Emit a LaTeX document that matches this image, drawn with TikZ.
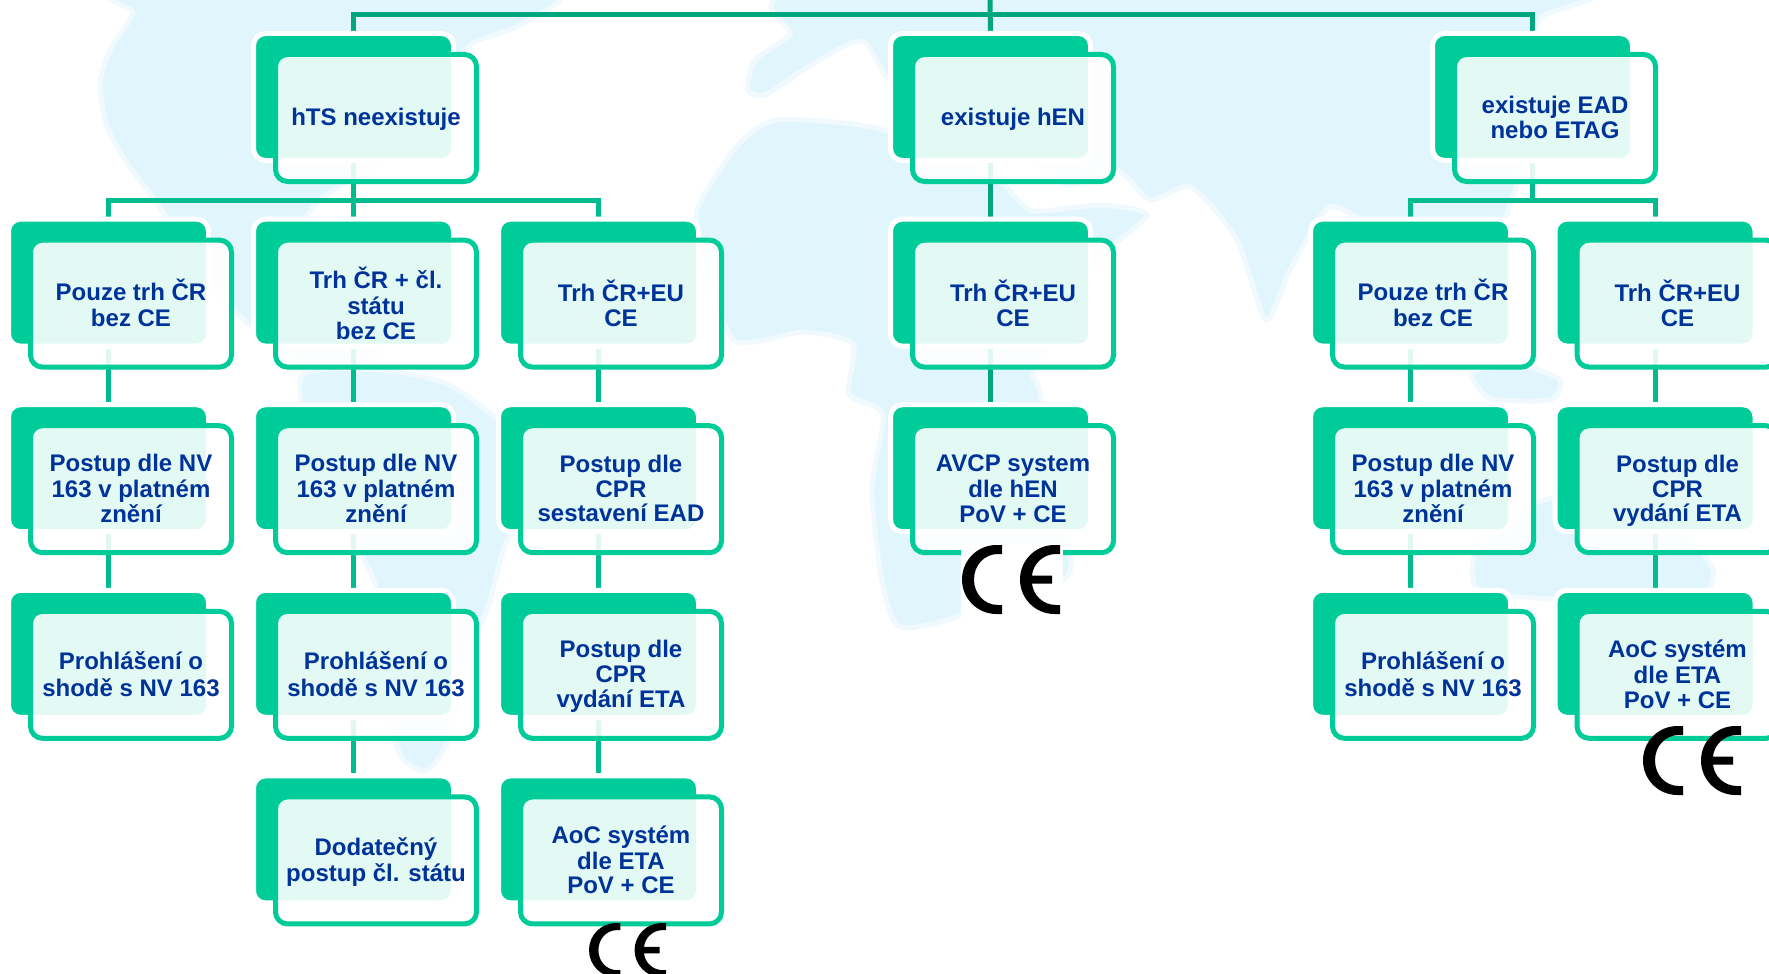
\documentclass[tikz,border=0pt]{standalone}
\usepackage{fontspec}
\setmainfont{Liberation Sans}
\definecolor{mapblue}{HTML}{E1F5FD}
\definecolor{boxgreen}{HTML}{00CC99}
\definecolor{linkgreen}{HTML}{00BC8E}
\definecolor{linkdark}{HTML}{00A67E}
\definecolor{txtblue}{HTML}{003399}
\tikzset{
  land/.style={fill=mapblue,draw=mapblue!50,line width=5pt,line join=round},
  backbox/.style={rectangle,rounded corners=12pt,draw=white,fill=boxgreen,line width=5pt,
    minimum width=200pt,minimum height=127pt,inner sep=0pt,outer sep=0pt,anchor=north west},
  frontbox/.style={rectangle,rounded corners=12pt,draw=boxgreen,fill=white,fill opacity=.89,draw opacity=1,
    line width=5pt,minimum width=201pt,minimum height=127pt,inner sep=0pt,outer sep=0pt,anchor=north west},
  boxtext/.style={align=center,text=txtblue,inner sep=0pt,
    font=\fontsize{24}{24.8}\selectfont\bfseries,anchor=center},
  link/.style={draw=linkgreen,line width=5pt,line join=miter},
  linkd/.style={draw=linkdark,line width=5pt,line join=miter}
}
\newcommand{\cbox}[4]{%
  \node[backbox] (b#1) at (#2-2.5,#3-2.5) {};
}
\newcommand{\cfront}[4]{%
  \node[frontbox] (f#1) at (#2+19.5,#3+18.5) {};
  \node[boxtext] (t#1) at (#2+120,#3+85) {\lineskiplimit=-100pt\relax\frenchspacing\strut #4\strut};
}
\newcommand{\celogo}[5]{%
  \begin{scope}[shift={(#1,#2)},x=#3pt,y=-#4pt]
    \fill[black] (40,0) -- (34.5,0) .. controls (15.4,0) and (0,15.4) .. (0,34.5) .. controls (0,53.6) and (15.4,69) .. (34.5,69) -- (40,69) -- (40,60) -- (36,60) .. controls (22,60) and (12,48.6) .. (12,34.5) .. controls (12,20.4) and (22,9) .. (36,9) -- (40,9) -- cycle;
    \fill[black] (98,0) -- (92.5,0) .. controls (73.4,0) and (58,15.4) .. (58,34.5) .. controls (58,53.6) and (73.4,69) .. (92.5,69) -- (98,69) -- (98,60) -- (94,60) .. controls (81,60) and (71,50) .. (70,38.5) -- (90,38.5) -- (90,30.5) -- (70,30.5) .. controls (71,19) and (81,9) .. (94,9) -- (98,9) -- cycle;
  \end{scope}
}
\begin{document}
\begin{tikzpicture}[x=1pt,y=-1pt]
\useasboundingbox (0,0) rectangle (1769,974);
\clip (0,0) rectangle (1769,974);
\fill[white] (0,0) rectangle (1769,974);
% map
\path[land] plot[smooth cycle,tension=.4] coordinates {(123,-10)(133,13)(110,50)(100,83)(107,127)(130,167)(160,207)(185,250)(215,290)(255,330)(300,365)(340,395)(372,360)(390,300)(330,270)(290,250)(320,200)(410,140)(445,90)(470,45)(520,25)(545,-10)};
\path[land] plot[smooth cycle,tension=.4] coordinates {(301,377)(380,370)(450,385)(510,430)(541,470)(505,545)(488,607)(459,674)(448,741)(425,771)(396,744)(376,587)(320,480)};
\path[land] plot[smooth cycle,tension=.4] coordinates {(698,207)(738,145)(776,120)(853,124)(900,135)(975,166)(1006,187)(1033,211)(1100,205)(1147,215)(1101,257)(1056,332)(1033,373)(1040,394)(1071,564)(1030,590)(899,626)(872,497)(883,415)(849,394)(853,344)(803,332)(734,340)(700,249)};
\path[land] plot[smooth cycle,tension=.4] coordinates {(815,-10)(790,35)(755,60)(748,90)(765,95)(800,72)(840,48)(865,42)(890,80)(945,100)(1000,125)(1040,165)(1070,185)(1117,170)(1150,200)(1191,187)(1237,240)(1266,320)(1290,270)(1329,207)(1370,230)(1400,300)(1440,330)(1470,300)(1518,180)(1525,60)(1541,17)(1564,-10)};
\path[land] plot[smooth cycle,tension=.4] coordinates {(1472,372)(1520,365)(1560,380)(1550,400)(1490,398)};
\path[land] plot[smooth cycle,tension=.4] coordinates {(1478,545)(1530,505)(1580,495)(1620,520)(1680,530)(1713,570)(1700,600)(1640,610)(1560,600)(1478,590)};
% anchor points of the connectors
\foreach \n/\x/\y in {hts/256/36,hen/893/36,ead/1435/36,
  a1/11/221.6,a2/256/221.6,a3/501/221.6,h1/893/221.6,e1/1313/221.6,e2/1557.5/221.6,
  b1/11/407.2,b2/256/407.2,b3/501/407.2,h2/893/407.2,f1/1313/407.2,f2/1557.5/407.2,
  c1/11/592.8,c2/256/592.8,c3/501/592.8,g1/1313/592.8,g2/1557.5/592.8,
  d2/256/778.4,d3/501/778.4}{
  \coordinate (t\n) at (\x+97.5,\y-5);
  \coordinate (s\n) at (\x+97.5,\y+127);
}
% connectors
\coordinate (topC) at (990,-5);
\coordinate (busT) at (990,14.5);
\coordinate (busA) at (353.5,200);
\coordinate (busE) at (1532.5,200);
\draw[linkd] (topC) -- (then);
\draw[linkd] (thts) |- (busT) -| (tead);
\draw[link] (shts) -- (ta2);
\draw[link] (ta1) |- (busA) -| (ta3);
\draw[link] (sead) -- (busE);
\draw[link] (te1) |- (busE) -| (te2);
\draw[linkd] (shen) -- (th1);
\draw[linkd] (sh1) -- (th2);
\foreach \p/\q in {a1/b1,a2/b2,a3/b3,b1/c1,b2/c2,b3/c3,c2/d2,c3/d3,e1/f1,e2/f2,f1/g1,f2/g2}{
  \draw[link] (s\p) -- (t\q);
}
% boxes
\cbox{hts}{256}{36}{} \cbox{hen}{893}{36}{} \cbox{ead}{1435}{36}{}
\cbox{a1}{11}{221.6}{} \cbox{a2}{256}{221.6}{} \cbox{a3}{501}{221.6}{} \cbox{h1}{893}{221.6}{} \cbox{e1}{1313}{221.6}{} \cbox{e2}{1557.5}{221.6}{}
\cbox{b1}{11}{407.2}{} \cbox{b2}{256}{407.2}{} \cbox{b3}{501}{407.2}{} \cbox{h2}{893}{407.2}{} \cbox{f1}{1313}{407.2}{} \cbox{f2}{1557.5}{407.2}{}
\cbox{c1}{11}{592.8}{} \cbox{c2}{256}{592.8}{} \cbox{c3}{501}{592.8}{} \cbox{g1}{1313}{592.8}{} \cbox{g2}{1557.5}{592.8}{}
\cbox{d2}{256}{778.4}{} \cbox{d3}{501}{778.4}{}
\cfront{hts}{256}{36}{hTS neexistuje}
\cfront{hen}{893}{36}{existuje hEN}
\cfront{ead}{1435}{36}{existuje EAD\\nebo ETAG}
\cfront{a1}{11}{221.6}{Pouze trh ČR\\bez CE}
\cfront{a2}{256}{221.6}{Trh ČR + čl.\\státu\\bez CE}
\cfront{a3}{501}{221.6}{Trh ČR+EU\\CE}
\cfront{h1}{893}{221.6}{Trh ČR+EU\\CE}
\cfront{e1}{1313}{221.6}{Pouze trh ČR\\bez CE}
\cfront{e2}{1557.5}{221.6}{Trh ČR+EU\\CE}
\cfront{b1}{11}{407.2}{Postup dle NV\\163 v platném\\znění}
\cfront{b2}{256}{407.2}{Postup dle NV\\163 v platném\\znění}
\cfront{b3}{501}{407.2}{Postup dle\\CPR\\sestavení EAD}
\cfront{h2}{893}{407.2}{AVCP system\\dle hEN\\PoV + CE}
\cfront{f1}{1313}{407.2}{Postup dle NV\\163 v platném\\znění}
\cfront{f2}{1557.5}{407.2}{Postup dle\\CPR\\vydání ETA}
\cfront{c1}{11}{592.8}{Prohlášení o\\shodě s NV 163}
\cfront{c2}{256}{592.8}{Prohlášení o\\shodě s NV 163}
\cfront{c3}{501}{592.8}{Postup dle\\CPR\\vydání ETA}
\cfront{g1}{1313}{592.8}{Prohlášení o\\shodě s NV 163}
\cfront{g2}{1557.5}{592.8}{AoC systém\\dle ETA\\PoV + CE}
\cfront{d2}{256}{778.4}{Dodatečný\\postup čl. státu}
\cfront{d3}{501}{778.4}{AoC systém\\dle ETA\\PoV + CE}
% CE marks
\fill[white] (961,543) rectangle (1063,618);
\celogo{962}{545}{1}{1}
\fill[white] (1641,724) rectangle (1744,800);
\celogo{1643}{726}{1}{1}
\fill[white] (588,921) rectangle (669,974);
\celogo{589}{923}{.786}{.786}
% page number
\node[text=txtblue,font=\fontsize{33}{33}\selectfont,inner sep=0pt,anchor=center] (pg) at (1663,910) {10};
\end{tikzpicture}
\end{document}
